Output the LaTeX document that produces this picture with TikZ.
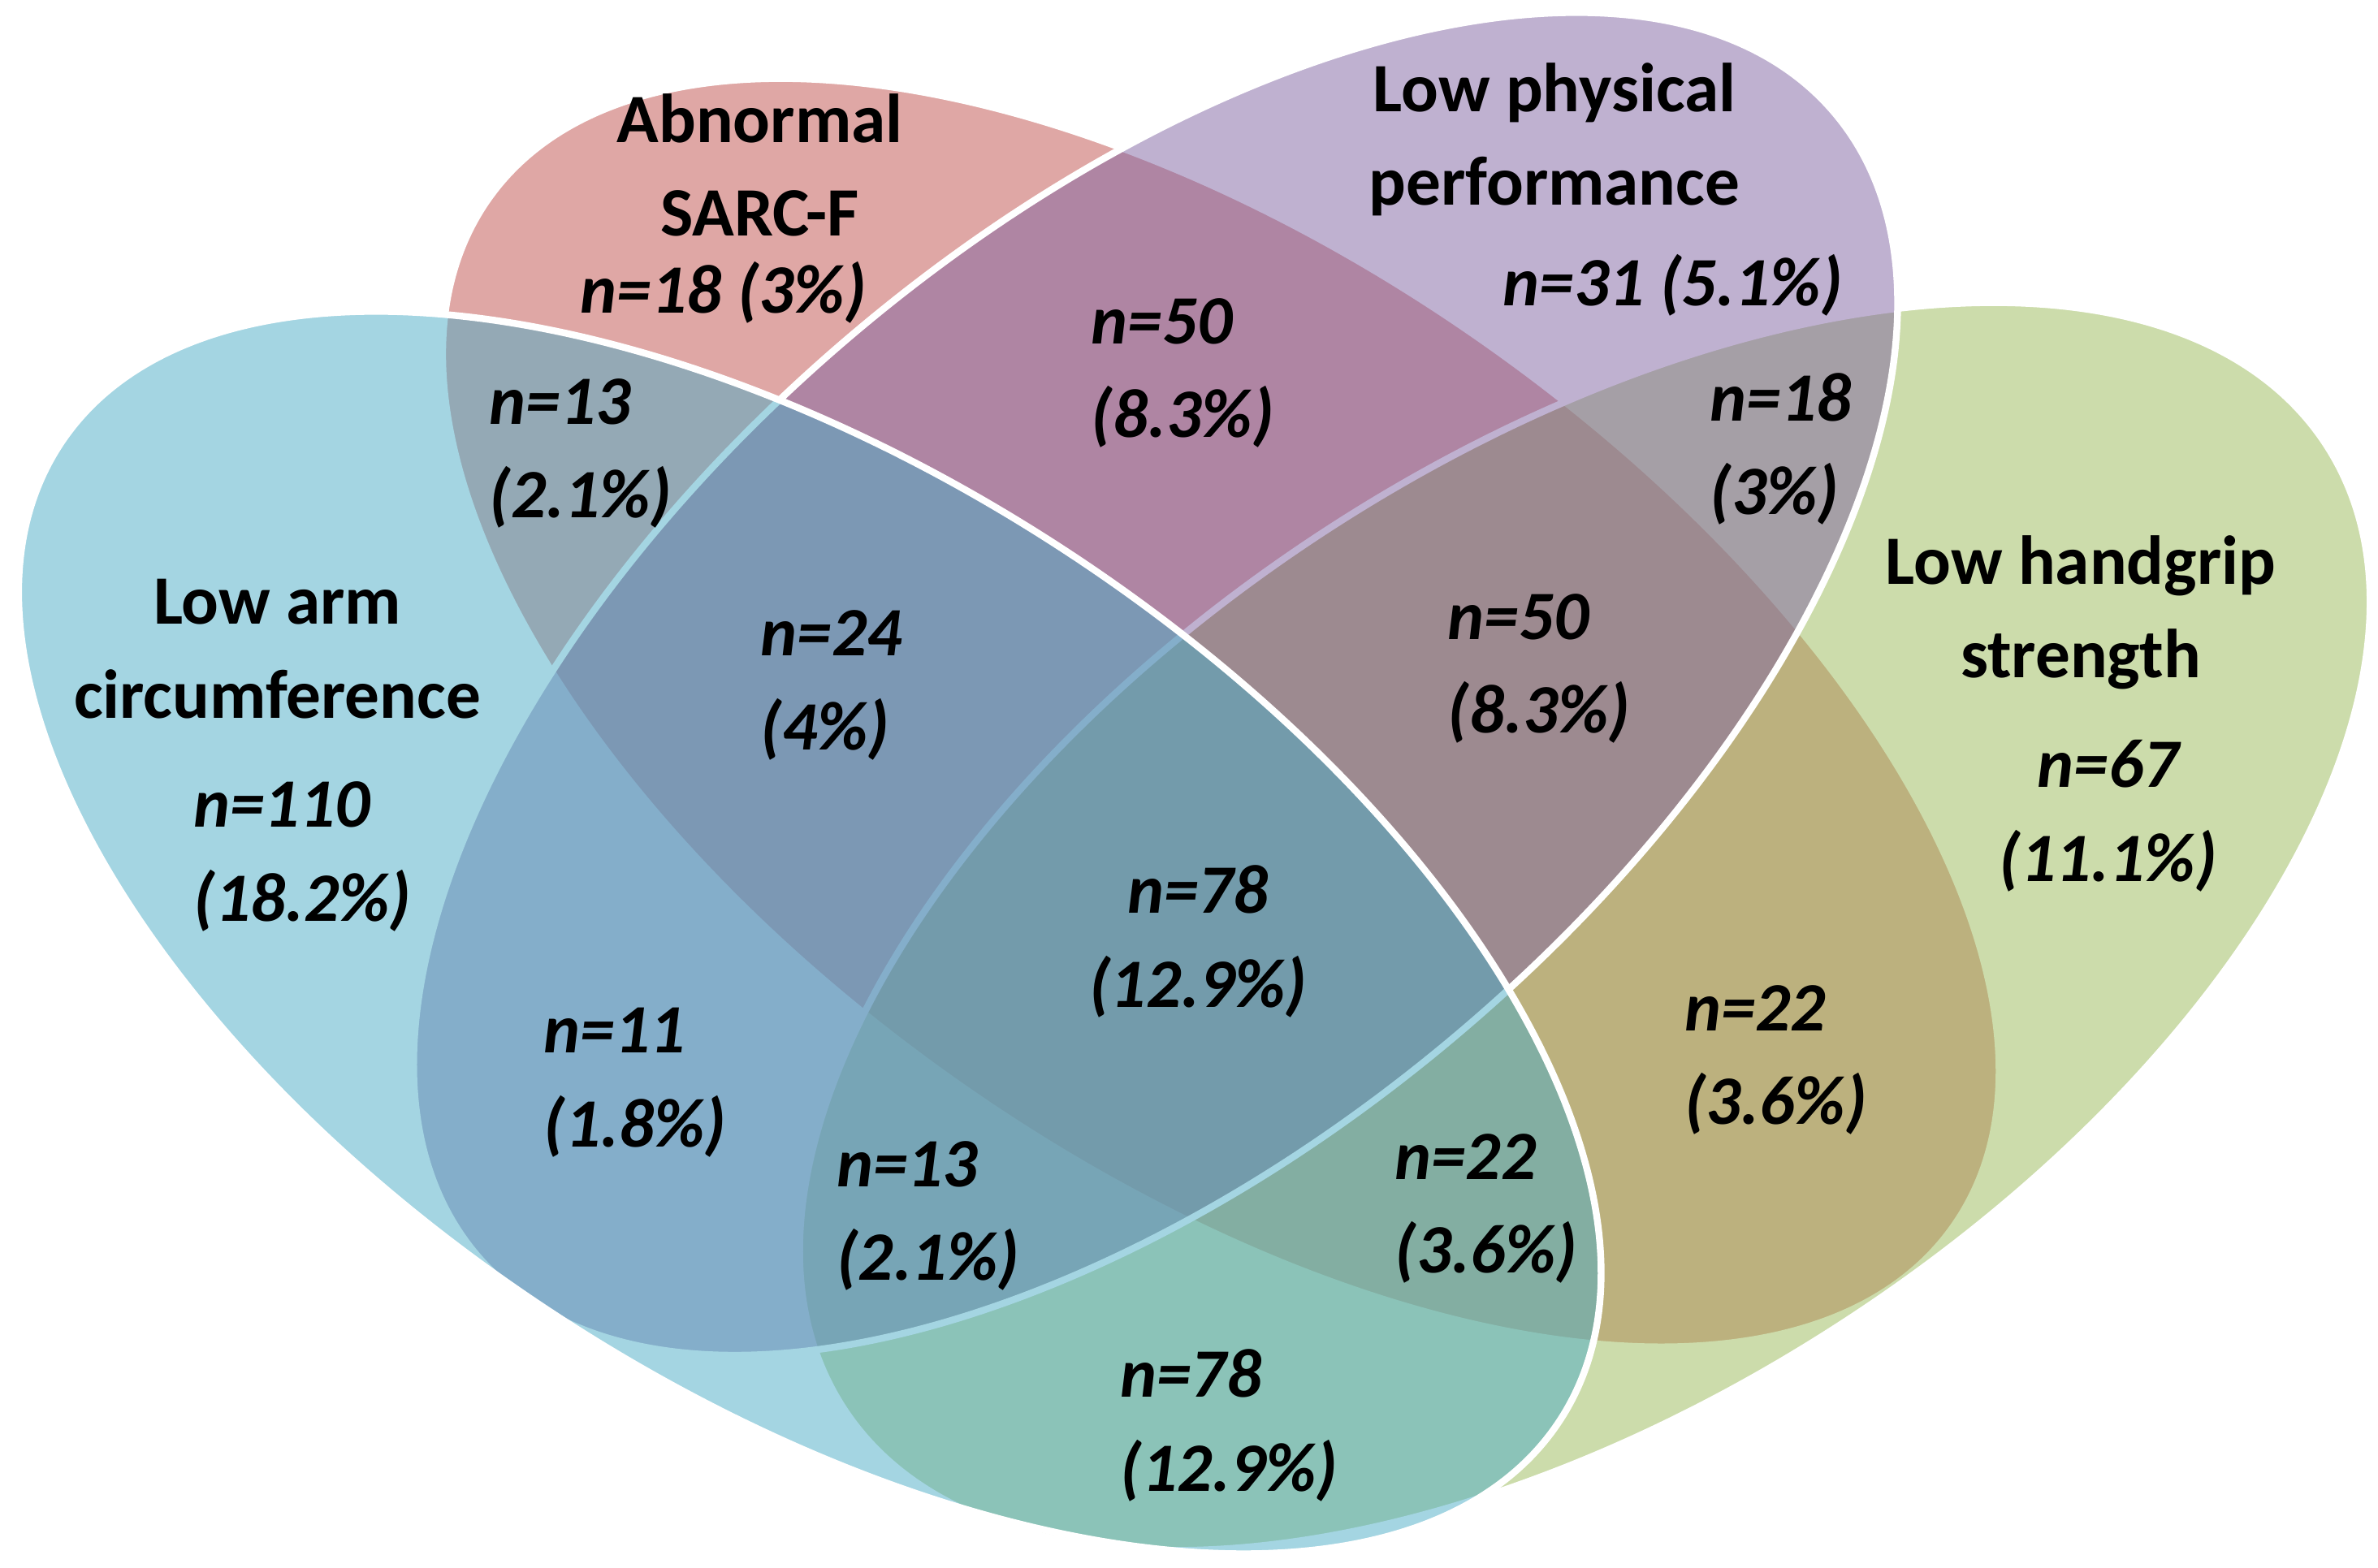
\documentclass[tikz,border=0pt]{standalone}
\usepackage{fontspec}
\setmainfont{Carlito}
\definecolor{setred}{HTML}{C0504D}
\definecolor{setgreen}{HTML}{9BBB59}
\definecolor{setpurple}{HTML}{8064A2}
\definecolor{setcyan}{HTML}{4BACC6}
\begin{document}
\begin{tikzpicture}[x=0.1mm,y=-0.1mm,
  setfill/.style={fill=#1, fill opacity=0.5, draw=white, line width=0.45mm},
  title/.style={font=\fontsize{13pt}{17.6pt}\selectfont\bfseries, align=center, text=black, inner sep=0pt},
  cnt/.style={font=\fontsize{13pt}{17.6pt}\selectfont\bfseries\itshape, align=center, text=black, inner sep=0pt},
  cntl/.style={cnt, align=left, anchor=west}]
\useasboundingbox (0,0) rectangle (1568,1034);
\fill[white] (0,0) rectangle (1568,1034);
\coordinate (cR) at (805,470);
\coordinate (cG) at (1045,611);
\coordinate (cP) at (762,451);
\coordinate (cC) at (534,615);
\path[setfill=setred, rotate around={-35:(cR)}] (cR) ellipse [x radius=59mm, y radius=30mm];
\path[setfill=setgreen, rotate around={33:(cG)}] (cG) ellipse [x radius=58.3mm, y radius=31.2mm];
\path[setfill=setpurple, rotate around={40:(cP)}] (cP) ellipse [x radius=58.5mm, y radius=30.5mm];
\path[setfill=setcyan, rotate around={-33:(cC)}] (cC) ellipse [x radius=59mm, y radius=30.3mm];

\node[title] (tR) at (501,109) {Abnormal\\SARC-F};
\node[cnt] (nR) at (477,193) {n=18 (3\%)};
\node[title] (tP) at (1025,92) {Low physical\\performance};
\node[cnt] (nP) at (1103,188) {n=31 (5.1\%)};
\node[title] (tC) at (183,428) {Low arm\\circumference};
\node[cntl] (nC) at (127,565) {n=110\\(18.2\%)};
\node[title] (tG) at (1372,404) {Low handgrip\\strength};
\node[cnt] (nG) at (1390,538) {n=67\\(11.1\%)};
\node[cntl] (nRP) at (719,246) {n=50\\(8.3\%)};
\node[cntl] (nCR) at (322,299) {n=13\\(2.1\%)};
\node[cntl] (nPG) at (1127,296) {n=18\\(3\%)};
\node[cntl] (nCRP) at (501,452) {n=24\\(4\%)};
\node[cntl] (nRPG) at (954,441) {n=50\\(8.3\%)};
\node[cnt] (nAll) at (790,621) {n=78\\(12.9\%)};
\node[cntl] (nCP) at (358,714) {n=11\\(1.8\%)};
\node[cntl] (nRG) at (1110,699) {n=22\\(3.6\%)};
\node[cntl] (nCPG) at (551,802) {n=13\\(2.1\%)};
\node[cntl] (nCRG) at (919,797) {n=22\\(3.6\%)};
\node[cntl] (nCG) at (738,940) {n=78\\(12.9\%)};
\end{tikzpicture}
\end{document}
